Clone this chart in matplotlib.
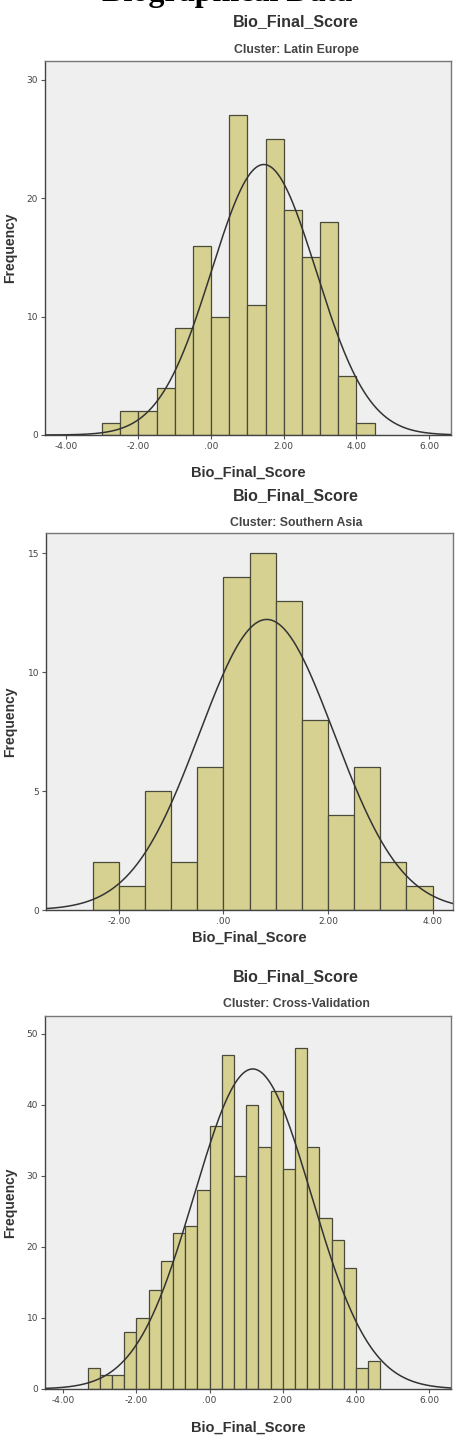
import numpy as np
import matplotlib
matplotlib.use("Agg")
import matplotlib.pyplot as plt

# ---------------- data ----------------
# Panel 1: Latin Europe (bin width 0.5, from -3.0)
le_edges_start = -3.0
le_binwidth = 0.5
le_counts = [1, 2, 2, 4, 9, 16, 10, 27, 11, 25, 19, 15, 18, 5, 1]
le_mean, le_sd = 1.45, 1.44

# Panel 2: Southern Asia (bin width 0.5, from -2.5)
sa_edges_start = -2.5
sa_binwidth = 0.5
sa_counts = [2, 1, 5, 2, 6, 14, 15, 13, 8, 4, 6, 2, 1]
sa_mean, sa_sd = 0.83, 1.29

# Panel 3: Cross-Validation (bin width 1/3, from -3.333)
cv_edges_start = -10.0 / 3
cv_binwidth = 1.0 / 3
cv_counts = [3, 2, 2, 8, 10, 14, 18, 22, 23, 28, 37, 47, 30, 40, 34, 42,
             31, 48, 34, 24, 21, 17, 3, 4]
cv_mean, cv_sd = 1.18, 1.60

subtitles = ["Cluster: Latin Europe", "Cluster: Southern Asia", "Cluster: Cross-Validation"]
x_ticks = [[-4, -2, 0, 2, 4, 6], [-2, 0, 2, 4], [-4, -2, 0, 2, 4, 6]]
x_ticklabels = [["-4.00", "-2.00", ".00", "2.00", "4.00", "6.00"],
                ["-2.00", ".00", "2.00", "4.00"],
                ["-4.00", "-2.00", ".00", "2.00", "4.00", "6.00"]]
y_ticks = [[0, 10, 20, 30], [0, 5, 10, 15], [0, 10, 20, 30, 40, 50]]

# ---------------- layout ----------------
W, H = 472, 1442
fig = plt.figure(figsize=(W / 100, H / 100), dpi=100)
fig.patch.set_facecolor("white")

def px_axes(x0, y0, x1, y1):
    return fig.add_axes([x0 / W, 1 - y1 / H, (x1 - x0) / W, (y1 - y0) / H])

panels = [
    dict(box=(45, 61, 451, 435), xlim=(-4.57, 6.6), ylim=(0, 31.6),
         counts=le_counts, start=le_edges_start, bw=le_binwidth, mean=le_mean, sd=le_sd,
         title_y=22, sub_y=50, xlabel_y=473),
    dict(box=(46, 533, 453, 910), xlim=(-3.39, 4.39), ylim=(0, 15.85),
         counts=sa_counts, start=sa_edges_start, bw=sa_binwidth, mean=sa_mean, sd=sa_sd,
         title_y=496, sub_y=523, xlabel_y=938),
    dict(box=(45, 1016, 451, 1389), xlim=(-4.5, 6.6), ylim=(0, 52.5),
         counts=cv_counts, start=cv_edges_start, bw=cv_binwidth, mean=cv_mean, sd=cv_sd,
         title_y=977, sub_y=1004, xlabel_y=1428),
]

bar_color = "#d6d191"
edge_color = "#4a4a3a"
bg_color = "#efefef"
sans = ["Liberation Sans", "DejaVu Sans"]

# partially cut-off heading at top (as in the reference)
fig.text(227 / W, 1 - 1.5 / H, "Biographical Data", ha="center", va="baseline",
         fontsize=23, fontweight="bold", family=["Liberation Serif", "DejaVu Serif"])

for i, p in enumerate(panels):
    x0, y0, x1, y1 = p["box"]
    ax = px_axes(x0, y0, x1, y1)
    ax.set_facecolor(bg_color)
    counts = np.array(p["counts"], dtype=float)
    lefts = p["start"] + p["bw"] * np.arange(len(counts))
    ax.bar(lefts, counts, width=p["bw"], align="edge", color=bar_color,
           edgecolor=edge_color, linewidth=0.9, zorder=2)
    # fitted normal curve
    xs = np.linspace(p["xlim"][0], p["xlim"][1], 400)
    n = counts.sum()
    ys = n * p["bw"] / (p["sd"] * np.sqrt(2 * np.pi)) * np.exp(-0.5 * ((xs - p["mean"]) / p["sd"]) ** 2)
    ax.plot(xs, ys, color="#333333", linewidth=1.1, zorder=3)
    ax.set_xlim(*p["xlim"])
    ax.set_ylim(*p["ylim"])
    ax.set_xticks(x_ticks[i])
    ax.set_xticklabels(x_ticklabels[i])
    ax.set_yticks(y_ticks[i])
    ax.set_yticklabels([str(v) for v in y_ticks[i]])
    ax.tick_params(axis="both", length=3, width=0.8, color="#555555",
                   labelsize=6.5, labelcolor="#444444", pad=2)
    for s in ax.spines.values():
        s.set_color("#777777")
        s.set_linewidth(1.0)
    ax.spines["left"].set_color("#444444")
    ax.spines["bottom"].set_color("#444444")

    # titles
    fig.text(296 / W, 1 - p["title_y"] / H, "Bio_Final_Score", ha="center", va="center",
             fontsize=11.5, fontweight="bold", color="#333333", family=sans)
    fig.text(296 / W, 1 - p["sub_y"] / H, subtitles[i], ha="center", va="center",
             fontsize=8.8, fontweight="bold", color="#444444", family=sans)
    # x label
    fig.text(((x0 + x1) / 2) / W, 1 - p["xlabel_y"] / H, "Bio_Final_Score", ha="center",
             va="center", fontsize=10.5, fontweight="bold", color="#333333", family=sans)
    # y label
    fig.text(10 / W, 1 - ((y0 + y1) / 2) / H, "Frequency", ha="center", va="center",
             rotation=90, fontsize=10, fontweight="bold", color="#333333", family=sans)

fig.savefig("out.png", dpi=100, facecolor="white")
